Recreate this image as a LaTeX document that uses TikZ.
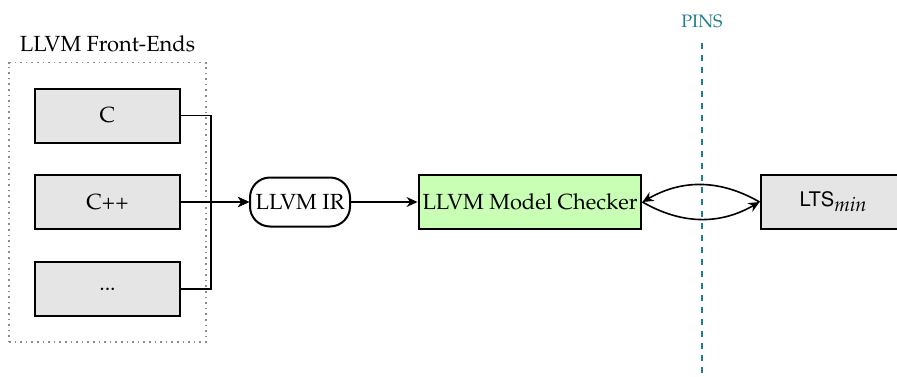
\documentclass[tikz,border=0pt,11pt]{standalone}
\usepackage[T1]{fontenc}
\usepackage{mathpazo}
\usepackage[scaled=0.92]{helvet}
\usetikzlibrary{arrows.meta,fit,positioning}
\definecolor{checkergreen}{RGB}{200,255,180}
\definecolor{pinsteal}{RGB}{35,125,145}
\begin{document}
\begin{tikzpicture}[
    x=1pt, y=1pt,
    node distance=43.25pt,
    box/.style={
        rectangle, draw=black, fill=black!10,
        minimum width=72.5pt, minimum height=27pt,
        align=center, line width=1pt
    },
    irbox/.style={
        rectangle, draw=black, rounded corners=10pt,
        minimum width=50pt, minimum height=24.5pt,
        inner sep=2pt, line width=1pt
    },
    mcbox/.style={
        rectangle, draw=black, fill=checkergreen,
        minimum width=110pt, minimum height=27pt,
        inner sep=2pt, line width=1pt
    },
    frontends/.style={draw=black!45, dotted, thick, inner sep=12.5pt},
    arr/.style={-{Stealth[length=5.5pt, width=5pt, inset=1.8pt]}, thick},
    pins/.style={draw=pinsteal, line width=1.3pt, dash pattern=on 3pt off 3pt},
]
\useasboundingbox (0,0) rectangle (448.5,188);

% Nodes
\node[box] (c) at (53.75,130.25) {C};
\node[box, below of=c] (cpp) {C++};
\node[box, below of=cpp, node distance=43.5pt] (etc) {...};
\node[irbox, right of=cpp, node distance=96.25pt] (ir) {LLVM IR};
\node[mcbox, right of=ir, node distance=115pt] (mc) {LLVM Model Checker};
\node[box, right of=mc, node distance=151.5pt] (lts) {\textsf{LTS}\raisebox{-0.45ex}{\small\itshape min}};

% Front-end frame
\node[frontends, fit=(c) (etc)] (fe) {};
\node[anchor=south, yshift=1pt] (felabel) at (fe.north) {LLVM Front-Ends};

% PINS
\coordinate (pinstop) at (351,166.5);
\coordinate (pinsbot) at (351,0);
\draw[pins] (pinstop) -- (pinsbot);
\node[pinsteal, font=\footnotesize, above=3.5pt of pinstop] (pinslabel) {PINS};

% Arrows
\draw[arr] (c.east) -- ++(15,0) |- (ir.west);
\draw[arr] (cpp.east) -- (ir.west);
\draw[arr] (etc.east) -- ++(15,0) |- (ir.west);
\draw[arr] (ir) -- (mc);
\draw[arr] (lts.west) to[bend right=30] (mc.east);
\draw[arr] (mc.east) to[bend right=30] (lts.west);

\end{tikzpicture}
\end{document}
